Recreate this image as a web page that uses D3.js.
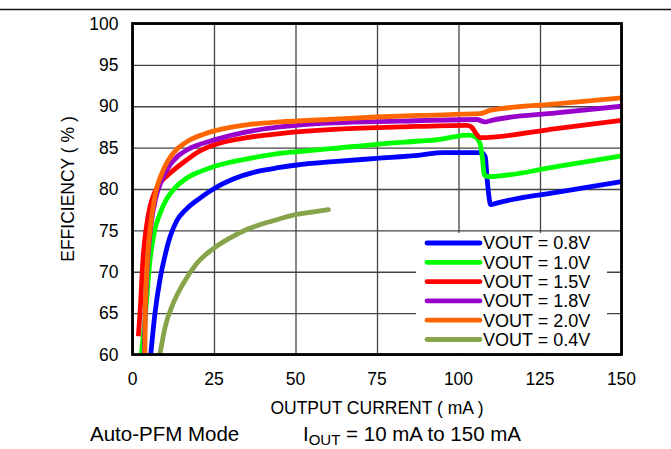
<!DOCTYPE html>
<html><head><meta charset="utf-8">
<script src="https://cdn.jsdelivr.net/npm/d3@7"></script>
<style>
body{margin:0;background:#fff;}
svg text{font-family:"Liberation Sans",Arial,sans-serif;fill:#000;}
</style></head>
<body><svg id="c" width="671" height="449"></svg>
<script>
const xTicks = [0,25,50,75,100,125,150];
const yTicks = [60,65,70,75,80,85,90,95,100];
const seriesNames = ["VOUT = 0.8V","VOUT = 1.0V","VOUT = 1.5V","VOUT = 1.8V","VOUT = 2.0V","VOUT = 0.4V"];
const seriesColors = ["#0000ff","#00ff00","#ff0000","#9900cc","#ff6600","#88a44a"];
// [current mA, efficiency %]
const v08 = [[5.6,60],[6.9,65],[8.4,69],[10,72],[11.5,74.2],[13.5,76.1],[16.6,77.6],[20.7,78.9],[24.8,80.0],[30.9,81.2],[38,82.1],[45.2,82.6],[50.4,82.9],[61.6,83.3],[74.9,83.7],[88.2,84.1],[95.3,84.4],[107.1,84.4],[108.2,83.9],[108.8,81.1],[109.9,78.1],[111.7,78.3],[130,79.6],[150,80.9]];
const v10 = [[2.7,60],[4.0,65],[5.4,71.5],[6.8,75],[8.4,77],[10.5,78.8],[12.5,79.9],[16.6,81.3],[20.7,82.1],[24.8,82.7],[36,83.7],[45.2,84.3],[50.4,84.5],[61.6,84.9],[74.9,85.4],[88.2,85.8],[94.3,86.0],[98.4,86.3],[103,86.5],[105.1,86.3],[106.6,85.5],[107.4,83.5],[107.9,81.7],[109.1,81.5],[130,82.7],[150,84.0]];
const v15 = [[1.8,62.2],[2.3,65],[3.3,72],[4.3,75.5],[5.4,77.9],[6.8,79.6],[8.4,80.7],[11.5,81.9],[16.6,83.5],[20.7,84.6],[24.8,85.3],[35,86.2],[45.2,86.7],[61.6,87.2],[82,87.5],[102.5,87.7],[104,87.5],[105.4,86.7],[106.6,86.2],[130,87.3],[150,88.3]];
const v18 = [[3.6,60],[3.9,65],[4.6,71],[5.8,76],[7.2,79],[8.8,80.9],[11.5,82.9],[14,84.0],[16.6,84.7],[20.7,85.4],[24.8,85.9],[35,86.9],[45.2,87.5],[61.6,88.0],[82,88.2],[105.6,88.4],[108.1,88.1],[110.2,88.3],[130,89.2],[150,90.0]];
const v20 = [[3.8,60],[3.9,65],[4.5,71],[5.6,75.8],[7.0,79.4],[9.0,81.9],[11,83.5],[13.6,84.8],[17,85.8],[21.7,86.6],[27,87.2],[36,87.8],[45.2,88.1],[60,88.4],[74.9,88.7],[88.2,88.9],[106.6,89.1],[109.7,89.5],[130,90.3],[150,91.0]];
const v04 = [[8.4,60],[10,63.3],[12.5,66.2],[15.3,68.4],[19.7,71],[24.8,72.8],[30,74.1],[35,75.1],[40,75.8],[45.2,76.4],[50,76.9],[55,77.2],[60.1,77.5]];
const seriesData = [v08,v10,v15,v18,v20,v04];
const drawOrder = [5,0,1,2,3,4];

const svg = d3.select("#c");
const L=132.5, R=621.5, T=23.5, B=354.5;
const x = d3.scaleLinear().domain([0,150]).range([L,R]);
const y = d3.scaleLinear().domain([60,100]).range([B,T]);

// top rule
svg.append("line").attr("x1",0).attr("x2",671).attr("y1",9.5).attr("y2",9.5).attr("stroke","#111").attr("stroke-width",1.5);

// grid
const gx = svg.append("g").attr("transform",`translate(0,${B})`)
  .call(d3.axisBottom(x).tickValues(xTicks).tickSize(-(B-T)).tickFormat(""));
gx.select(".domain").remove();
gx.selectAll("line").attr("stroke","#444").attr("stroke-width",1.3);
const gy = svg.append("g").attr("transform",`translate(${L},0)`)
  .call(d3.axisLeft(y).tickValues(yTicks).tickSize(-(R-L)).tickFormat(""));
gy.select(".domain").remove();
gy.selectAll("line").attr("stroke","#444").attr("stroke-width",1.3);

// tick labels
svg.append("g").selectAll("text").data(xTicks).join("text")
  .attr("x",d=>x(d)).attr("y",B+30).attr("text-anchor","middle")
  .attr("font-size",17.5).text(d=>d);
svg.append("g").selectAll("text").data(yTicks).join("text")
  .attr("x",L-14).attr("y",d=>y(d)).attr("dy","0.35em").attr("text-anchor","end")
  .attr("font-size",17.5).text(d=>d);

// curves
svg.append("clipPath").attr("id","pc").append("rect").attr("x",L).attr("y",T).attr("width",R-L).attr("height",B-T);
const line = d3.line().x(d=>x(d[0])).y(d=>y(d[1])).curve(d3.curveMonotoneX);
const cg = svg.append("g").attr("clip-path","url(#pc)");
drawOrder.forEach(i=>{
  cg.append("path").datum(seriesData[i]).attr("d",line).attr("fill","none")
    .attr("stroke",seriesColors[i]).attr("stroke-width",4.8)
    .attr("stroke-linejoin","round").attr("stroke-linecap",i===5?"round":"butt");
});

// legend
const lg = svg.append("g");
lg.append("rect").attr("x",416).attr("y",233).attr("width",191).attr("height",120).attr("fill","#fff");
seriesNames.forEach((n,i)=>{
  const yy = 243 + i*19.3;
  lg.append("line").attr("x1",427).attr("x2",480).attr("y1",yy).attr("y2",yy)
    .attr("stroke",seriesColors[i]).attr("stroke-width",4.8).attr("stroke-linecap","round");
  lg.append("text").attr("x",483).attr("y",yy).attr("dy","0.36em").attr("font-size",18).text(n);
});

// frame
svg.append("rect").attr("x",L).attr("y",T).attr("width",R-L).attr("height",B-T)
  .attr("fill","none").attr("stroke","#000").attr("stroke-width",2.8);

// axis titles
svg.append("text").attr("x",(L+R)/2).attr("y",414).attr("text-anchor","middle").attr("font-size",17.5).text("OUTPUT CURRENT ( mA )");
svg.append("text").attr("transform",`translate(74,${(T+B)/2}) rotate(-90)`).attr("text-anchor","middle").attr("font-size",17.5).text("EFFICIENCY ( % )");

// caption
svg.append("text").attr("x",90).attr("y",441).attr("font-size",20.5).text("Auto-PFM Mode");
const cap = svg.append("text").attr("x",303).attr("y",441).attr("font-size",20.5);
cap.append("tspan").text("I");
cap.append("tspan").attr("font-size",15).attr("dy",4).text("OUT");
cap.append("tspan").attr("dy",-4).text(" = 10 mA to 150 mA");
</script></body></html>
